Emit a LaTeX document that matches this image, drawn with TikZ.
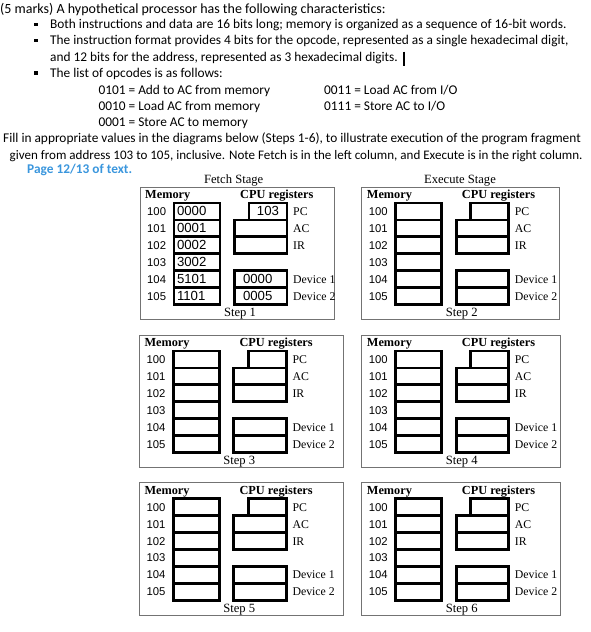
\documentclass[tikz,border=0pt]{standalone}
\usepackage{fontspec}
\setmainfont{Carlito}
\newfontfamily\seriffont{Liberation Serif}
\newfontfamily\arialfont{Liberation Sans}
\definecolor{pageblue}{RGB}{58,150,221}
\newcommand{\qsize}{\fontsize{13.35}{16}\selectfont}

\begin{document}
\begin{tikzpicture}[x=1pt,y=-1pt,
    qline/.style={anchor=base west, inner sep=0, font=\qsize},
    sqbullet/.style={fill=black, inner sep=0, minimum size=3.6pt},
    frame/.style={draw=black!55, line width=0.9pt},
    cell/.style={draw, line width=2.8pt, inner sep=0, minimum height=16.9pt},
    memcell/.style={cell, minimum width=46pt},
    pcreg/.style={cell, minimum width=38pt},
    reg/.style={cell, minimum width=52.5pt},
    val/.style={inner sep=0, font=\arialfont\fontsize{13.2}{15}\selectfont},
    memval/.style={val, text width=40pt, align=left},
    addr/.style={anchor=base west, inner sep=0, font=\arialfont\fontsize{11.3}{13}\selectfont},
    lbl/.style={anchor=base west, inner sep=0, font=\seriffont\fontsize{11.8}{14}\selectfont},
    head/.style={anchor=base west, inner sep=0, font=\seriffont\bfseries\fontsize{12.3}{14}\selectfont},
    stage/.style={anchor=base, inner sep=0, font=\seriffont\fontsize{12.6}{14}\selectfont}]
    \useasboundingbox (0,0) rectangle (591,632);

    % Question text
    \node[qline, font=\fontsize{14}{16}\selectfont] (q0) at (0,13) {(5 marks) A hypothetical processor has the following characteristics:};
    \node[sqbullet] (b1) at (36,24.5) {};
    \node[qline] (q1) at (50,28.5) {Both instructions and data are 16 bits long; memory is organized as a sequence of 16-bit words.};
    \node[sqbullet] (b2) at (36,40.5) {};
    \node[qline] (q2) at (50,44.5) {The instruction format provides 4 bits for the opcode, represented as a single hexadecimal digit,};
    \node[qline] (q3) at (50,61) {and 12 bits for the address, represented as 3 hexadecimal digits.};
    \draw[line width=1.1pt] (404,51.5) -- (404,65.5);
    \node[sqbullet] (b3) at (36,73) {};
    \node[qline] (q4) at (50,77) {The list of opcodes is as follows:};

    % Opcodes
    \node[qline] (op1) at (98.3,94.5) {0101 = Add to AC from memory};
    \node[qline] (op2) at (98.3,110.5) {0010 = Load AC from memory};
    \node[qline] (op3) at (98.3,126) {0001 = Store AC to memory};
    \node[qline] (op4) at (324,94.5) {0011 = Load AC from I/O};
    \node[qline] (op5) at (324,110.5) {0111 = Store AC to I/O};

    \node[qline] (q5) at (3,142) {Fill in appropriate values in the diagrams below (Steps 1-6), to illustrate execution of the program fragment};
    \node[qline, font=\fontsize{13.05}{16}\selectfont] (q6) at (9.5,159) {given from address 103 to 105, inclusive. Note Fetch is in the left column, and Execute is in the right column.};
    \node[qline, font=\qsize\bfseries, text=pageblue] (page) at (27,173) {Page 12/13 of text.};

    % Stage titles
    \node[stage] (fetch) at (233.7,183) {Fetch Stage};
    \node[stage] (exec) at (460,183) {Execute Stage};

    % Panels: Steps 1-6
    \foreach \p/\L/\T/\R in {1/140/187/334, 2/361.7/187/559, 3/139.3/335/343.3,
                             4/361.7/335/560, 5/139.3/482.7/343.3, 6/361.7/482.7/560}{
      \begin{scope}[shift={(\L,\T)}]
        \draw[frame] (0,0) rectangle (\R-\L,132.7);
        \node[head] (mh\p) at (5,11.5) {Memory};
        \node[head] (ch\p) at (100,11.5) {CPU registers};
        \foreach \k/\a in {0/100,1/101,2/102,3/103,4/104,5/105}{
          \node[memcell] (m\p-\k) at (57,24.45+16.9*\k) {};
          \node[addr] (a\p-\k) at (7,28.5+16.9*\k) {\a};
        }
        \node[pcreg] (pc\p) at (128,24.45) {};
        \node[reg] (ac\p) at (120.75,41.35) {};
        \node[reg] (ir\p) at (120.75,58.25) {};
        \node[reg] (dva\p) at (120.75,92.05) {};
        \node[reg] (dvb\p) at (120.75,108.95) {};
        \node[lbl] (pcl\p) at (153,28.6) {PC};
        \node[lbl] (acl\p) at (153,45.5) {AC};
        \node[lbl] (irl\p) at (153,62.4) {IR};
        \node[lbl] (dval\p) at (153,96.2) {Device 1};
        \node[lbl] (dvbl\p) at (153,113.1) {Device 2};
        \node[stage] (st\p) at (100,129.5) {Step \p};
      \end{scope}
    }

    % Step 1 values
    \node[memval] (v0) at (m1-0) {0000};
    \node[memval] (v1) at (m1-1) {0001};
    \node[memval] (v2) at (m1-2) {0002};
    \node[memval] (v3) at (m1-3) {3002};
    \node[memval] (v4) at (m1-4) {5101};
    \node[memval] (v5) at (m1-5) {1101};
    \node[val] (vpc) at (pc1) {103};
    \node[val] (vda) at ([xshift=-3pt]dva1) {0000};
    \node[val] (vdb) at ([xshift=-3pt]dvb1) {0005};
\end{tikzpicture}
\end{document}
